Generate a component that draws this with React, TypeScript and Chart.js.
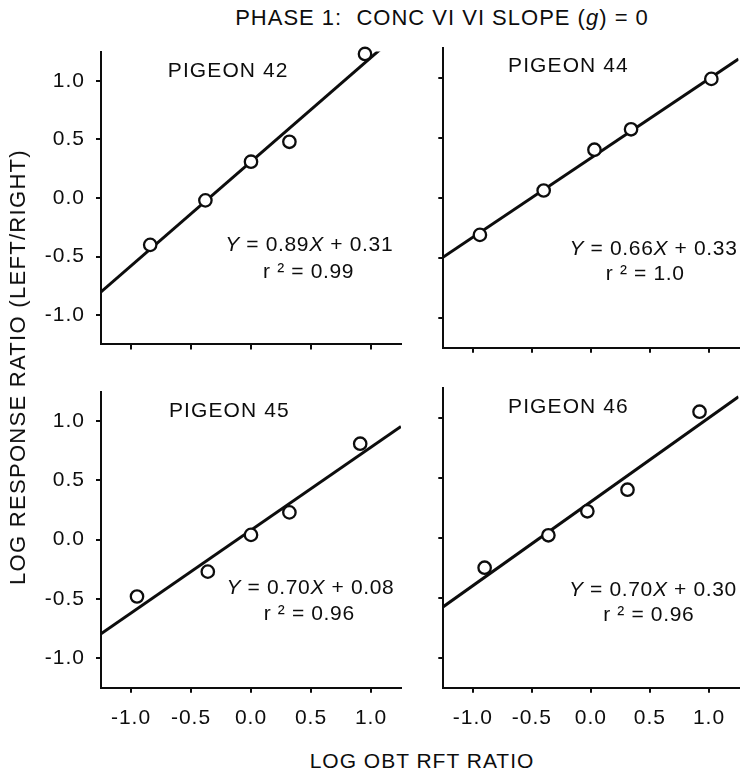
import React, { useEffect, useRef } from "react";
import { Chart, registerables } from "chart.js";

Chart.register(...registerables);

// ---------- data ----------
const pigeonNames = ["PIGEON 42", "PIGEON 44", "PIGEON 45", "PIGEON 46"];

const obtRatio42 = [-0.84, -0.38, 0.0, 0.32, 0.95];
const respRatio42 = [-0.4, -0.02, 0.31, 0.48, 1.23];

const obtRatio44 = [-0.94, -0.4, 0.03, 0.34, 1.02];
const respRatio44 = [-0.31, 0.06, 0.4, 0.57, 0.99];

const obtRatio45 = [-0.95, -0.36, 0.0, 0.32, 0.91];
const respRatio45 = [-0.48, -0.27, 0.04, 0.23, 0.81];

const obtRatio46 = [-0.9, -0.36, -0.03, 0.31, 0.92];
const respRatio46 = [-0.25, 0.02, 0.22, 0.4, 1.05];

const fitSlopes = [0.89, 0.66, 0.7, 0.7];
const fitIntercepts = [0.31, 0.33, 0.08, 0.3];
const rSquaredLabels = ["0.99", "1.0", "0.96", "0.96"];

const tickValues = [-1.0, -0.5, 0.0, 0.5, 1.0];
const axisMin = -1.25;
const axisMax = 1.25;

const allObt = [obtRatio42, obtRatio44, obtRatio45, obtRatio46];
const allResp = [respRatio42, respRatio44, respRatio45, respRatio46];

// ---------- styling / layout ----------
const INK = "#0d0d0d";
const FONT = "'Liberation Sans', Arial, Helvetica, sans-serif";

const panelLayout = [
  { x: 0, y: 28, w: 421, h: 340, wy: 101, hx: 20.3, pt: 19.7, pr: 20, xLabels: false, yLabels: true },
  { x: 403, y: 28, w: 344, h: 340, wy: 40.3, hx: 20.3, pt: 19.7, pr: 3.7, xLabels: false, yLabels: false },
  { x: 0, y: 368, w: 421, h: 372, wy: 101, hx: 52.3, pt: 19.7, pr: 20, xLabels: true, yLabels: true },
  { x: 403, y: 368, w: 344, h: 372, wy: 40.3, hx: 52.3, pt: 19.7, pr: 3.7, xLabels: true, yLabels: false },
];

// text anchors in data coordinates (center x, baseline y)
const textAnchors = [
  { title: [-0.19, 1.037], eq1: [0.485, -0.455], eq2: [0.48, -0.68] },
  { title: [-0.19, 1.05], eq1: [0.53, -0.478], eq2: [0.46, -0.686] },
  { title: [-0.18, 1.037], eq1: [0.495, -0.463], eq2: [0.485, -0.68] },
  { title: [-0.19, 1.042], eq1: [0.525, -0.486], eq2: [0.49, -0.69] },
];

type Seg = { t: string; italic?: boolean };

function drawSegments(ctx: CanvasRenderingContext2D, segs: Seg[], cx: number, by: number, size: number, spacing: string) {
  ctx.save();
  (ctx as any).letterSpacing = spacing;
  ctx.textAlign = "left";
  ctx.textBaseline = "alphabetic";
  ctx.fillStyle = INK;
  const widths: number[] = [];
  let total = 0;
  for (const s of segs) {
    ctx.font = `${s.italic ? "italic " : ""}${size}px ${FONT}`;
    const w = ctx.measureText(s.t).width;
    widths.push(w);
    total += w;
  }
  let x = cx - total / 2;
  segs.forEach((s, i) => {
    ctx.font = `${s.italic ? "italic " : ""}${size}px ${FONT}`;
    ctx.fillText(s.t, x, by);
    x += widths[i];
  });
  ctx.restore();
}

function Panel({ idx }: { idx: number }) {
  const ref = useRef<HTMLCanvasElement | null>(null);
  const L = panelLayout[idx];

  useEffect(() => {
    if (!ref.current) return;
    const points = allObt[idx].map((x, i) => ({ x, y: allResp[idx][i] }));
    const m = fitSlopes[idx];
    const b = fitIntercepts[idx];
    const fitLine = [
      { x: axisMin, y: m * axisMin + b },
      { x: axisMax, y: m * axisMax + b },
    ];
    const anchors = textAnchors[idx];

    const textPlugin = {
      id: "panelText" + idx,
      beforeDraw(chart: any) {
        chart.ctx.letterSpacing = "1px";
      },
      afterDatasetsDraw(chart: any) {
        const ctx = chart.ctx as CanvasRenderingContext2D;
        const xs = chart.scales.x;
        const ys = chart.scales.y;
        drawSegments(
          ctx,
          [{ t: pigeonNames[idx] }],
          xs.getPixelForValue(anchors.title[0]),
          ys.getPixelForValue(anchors.title[1]),
          21,
          "1.1px"
        );
        drawSegments(
          ctx,
          [
            { t: "Y", italic: true },
            { t: ` = ${m.toFixed(2)}` },
            { t: "X", italic: true },
            { t: ` + ${b.toFixed(2)}` },
          ],
          xs.getPixelForValue(anchors.eq1[0]),
          ys.getPixelForValue(anchors.eq1[1]),
          21,
          "0.65px"
        );
        drawSegments(
          ctx,
          [{ t: `r ² = ${rSquaredLabels[idx]}` }],
          xs.getPixelForValue(anchors.eq2[0]),
          ys.getPixelForValue(anchors.eq2[1]),
          21,
          "0.65px"
        );
      },
    };

    const axisCommon = (showLabels: boolean, isX: boolean) => ({
      type: "linear" as const,
      min: axisMin,
      max: axisMax,
      afterBuildTicks: (s: any) => {
        s.ticks = tickValues.map((v) => ({ value: v }));
      },
      afterFit: (s: any) => {
        if (isX) s.height = L.hx;
        else s.width = L.wy;
      },
      grid: {
        drawOnChartArea: false,
        drawTicks: true,
        tickLength: 5,
        tickWidth: 2,
        tickColor: INK,
        color: INK,
        lineWidth: 2,
      },
      border: { display: true, color: INK, width: 2 },
      ticks: {
        display: showLabels,
        padding: isX ? 13 : 11,
        color: INK,
        font: { family: FONT, size: 21 },
        autoSkip: false,
        maxRotation: 0,
        callback: (v: any) => Number(v).toFixed(1),
      },
    });

    const chart = new Chart(ref.current, {
      type: "scatter",
      data: {
        datasets: [
          {
            data: points,
            pointRadius: 6.2,
            pointBorderWidth: 2.3,
            pointBackgroundColor: "#ffffff",
            pointBorderColor: INK,
            showLine: false,
            clip: false,
          } as any,
          {
            data: fitLine,
            showLine: true,
            borderColor: INK,
            borderWidth: 3,
            pointRadius: 0,
            fill: false,
          } as any,
        ],
      },
      options: {
        animation: false,
        responsive: false,
        devicePixelRatio: 1,
        events: [],
        layout: { padding: { left: 0, top: L.pt, right: L.pr, bottom: 0 } },
        plugins: {
          legend: { display: false },
          tooltip: { enabled: false },
          title: { display: false },
        },
        scales: {
          x: axisCommon(L.xLabels, true) as any,
          y: axisCommon(L.yLabels, false) as any,
        },
      },
      plugins: [textPlugin as any],
    });
    return () => chart.destroy();
  }, [idx]);

  return (
    <canvas
      ref={ref}
      width={L.w}
      height={L.h}
      style={{ position: "absolute", left: L.x, top: L.y, width: L.w, height: L.h }}
    />
  );
}

export default function App() {
  return (
    <div
      style={{
        position: "absolute",
        left: 0,
        top: 0,
        width: 747,
        height: 775,
        overflow: "hidden",
        background: "#ffffff",
        fontFamily: FONT,
        color: INK,
      }}
    >
      <div
        style={{
          position: "absolute",
          left: 442,
          top: 7,
          transform: "translateX(-50%)",
          fontSize: 22,
          lineHeight: "22px",
          letterSpacing: "1px",
          whiteSpace: "pre",
        }}
      >
        {"PHASE 1:  CONC VI VI SLOPE ("}
        <i>g</i>
        {") = 0"}
      </div>
      {[0, 1, 2, 3].map((i) => (
        <Panel key={i} idx={i} />
      ))}
      <div
        style={{
          position: "absolute",
          left: 18,
          top: 367,
          transform: "translate(-50%, -50%) rotate(-90deg)",
          fontSize: 22,
          lineHeight: "22px",
          letterSpacing: "1.3px",
          whiteSpace: "pre",
        }}
      >
        LOG RESPONSE RATIO (LEFT/RIGHT)
      </div>
      <div
        style={{
          position: "absolute",
          left: 422,
          top: 750,
          transform: "translateX(-50%)",
          fontSize: 21,
          lineHeight: "21px",
          letterSpacing: "1px",
          whiteSpace: "pre",
        }}
      >
        LOG OBT RFT RATIO
      </div>
    </div>
  );
}
